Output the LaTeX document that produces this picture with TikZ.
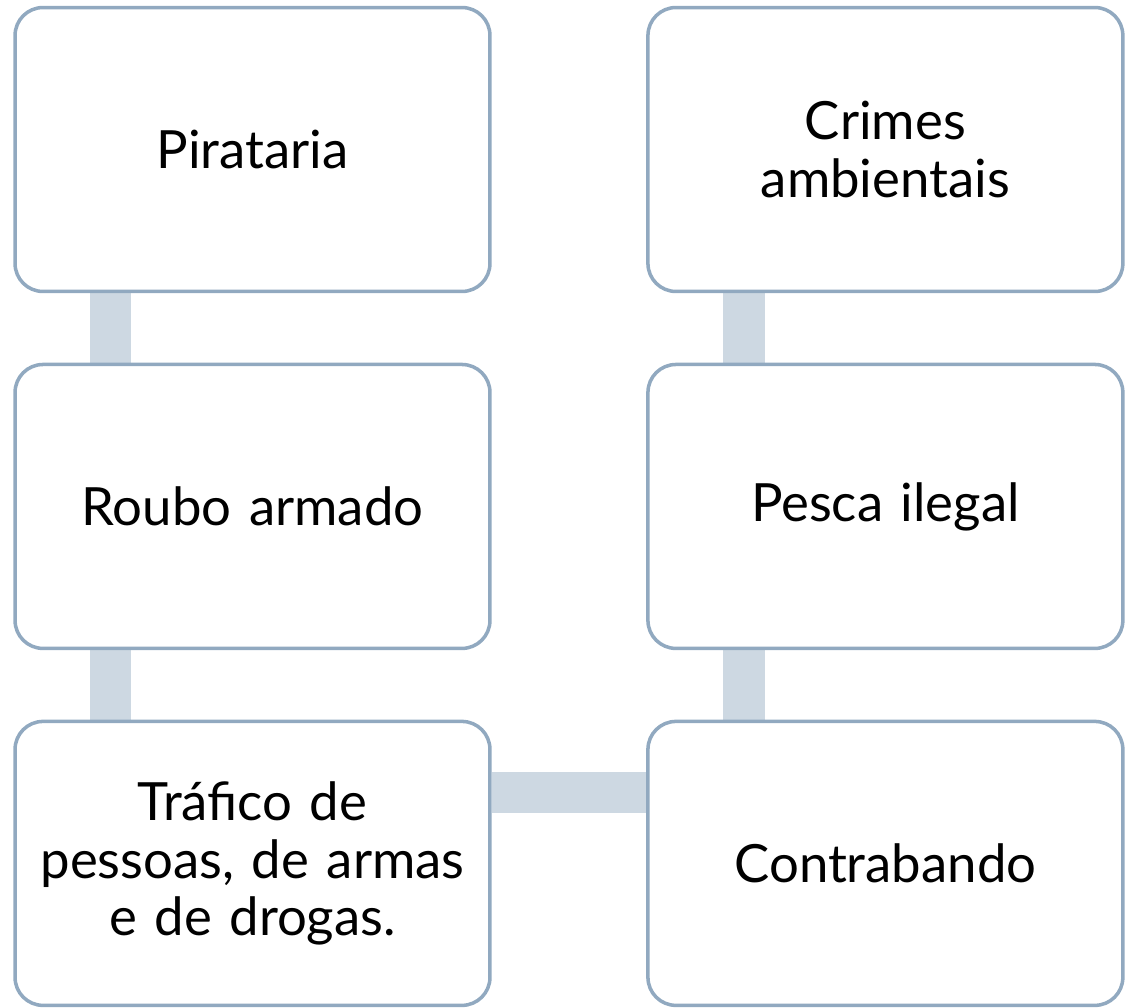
\documentclass[tikz,border=0pt]{standalone}
\usepackage{fontspec}
\setmainfont{Lato}
\usepackage{xcolor}
\usepackage{tikz}
\usetikzlibrary{positioning}
\usetikzlibrary{backgrounds}
\definecolor{boxline}{HTML}{91A9C0}
\definecolor{barfill}{HTML}{CDD8E2}
\tikzstyle{crimebox}=[draw=boxline,line width=2pt,fill=white,rounded corners=0.56cm,minimum width=9.5cm,minimum height=5.68cm,text width=8.9cm,align=center,font=\fontsize{30}{33}\selectfont]
\tikzstyle{bar}=[barfill,line width=0.83cm]

\begin{document}
\begin{tikzpicture}[x=0.02cm,y=-0.02cm,node distance=1.39cm and 3.09cm]
\useasboundingbox (0,0) rectangle (1131,1007);

\node [crimebox] (pir) at (252.5,149.5) {Pirataria};
\node [crimebox,below=of pir] (rou) {Roubo armado};
\node [crimebox,below=of rou] (tra) {Tr\'afico de\\pessoas, de armas\\e de drogas.};
\node [crimebox,right=of tra] (con) {Contrabando};
\node [crimebox,above=of con] (pes) {Pesca ilegal};
\node [crimebox,above=of pes] (amb) {Crimes\\ambientais};

\begin{scope}[on background layer]
\draw [bar] ([xshift=-2.84cm]pir.south) -- ([xshift=-2.84cm]rou.north);
\draw [bar] ([xshift=-2.84cm]rou.south) -- ([xshift=-2.84cm]tra.north);
\draw [bar] ([xshift=-2.83cm]amb.south) -- ([xshift=-2.83cm]pes.north);
\draw [bar] ([xshift=-2.83cm]pes.south) -- ([xshift=-2.83cm]con.north);
\draw [bar] ([yshift=1.42cm]tra.east) -- ([yshift=1.42cm]con.west);
\end{scope}
\end{tikzpicture}
\end{document}
